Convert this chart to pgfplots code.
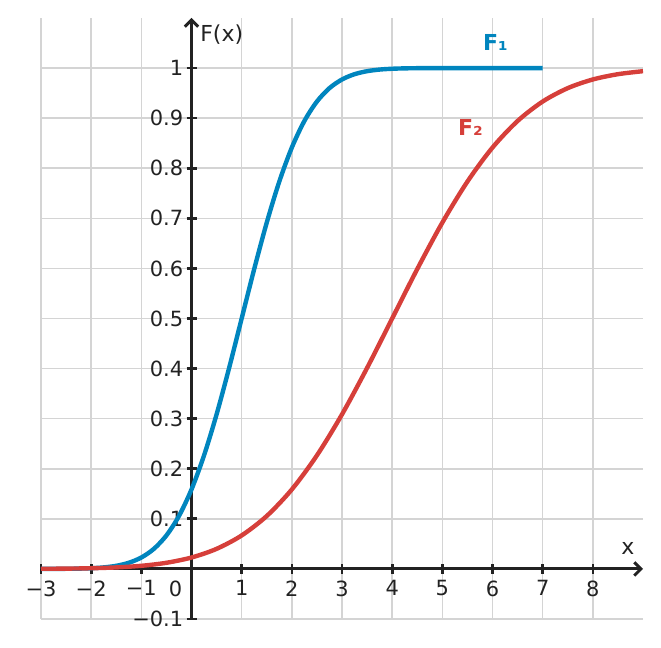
\documentclass[border=0pt]{standalone}
\usepackage{pgfplots}
\pgfplotsset{compat=1.18}
\usepackage{fontspec}
\setmainfont{DejaVu Sans}
\usetikzlibrary{arrows.meta,calc}
\definecolor{fone}{RGB}{0,133,190}
\definecolor{ftwo}{RGB}{214,63,58}
\definecolor{gridc}{RGB}{212,212,212}
\definecolor{axc}{RGB}{34,34,34}
\begin{document}
\begin{tikzpicture}
\begin{axis}[
  scale only axis,
  width=451.5pt, height=450.75pt,
  xmin=-3, xmax=9, ymin=-0.1, ymax=1.1,
  axis lines=middle,
  axis line style={line width=2.3pt, color=axc, -{Straight Barb[length=5pt,width=10pt,line width=2.2pt]}},
  xtick={-3,-2,-1,0,1,2,3,4,5,6,7,8},
  xticklabels={−3,−2,−1,,1,2,3,4,5,6,7,8},
  ytick={-0.1,0,0.1,0.2,0.3,0.4,0.5,0.6,0.7,0.8,0.9,1},
  yticklabels={−0.1,,0.1,0.2,0.3,0.4,0.5,0.6,0.7,0.8,0.9,1},
  tick align=center,
  major tick length=7.5pt,
  tick style={line width=2pt, color=axc},
  grid=major,
  grid style={line width=1.2pt, color=gridc},
  ticklabel style={font=\fontsize{15.7}{18}\selectfont, text=axc},
  xticklabel style={yshift=-1.5pt},
  yticklabel style={xshift=1pt},
  clip=false,
]
\addplot[color=fone, line width=3.3pt, smooth] coordinates {
(-3,0.00003) (-2.75,0.00009) (-2.5,0.00023) (-2.25,0.00058) (-2,0.00135)
(-1.75,0.00298) (-1.5,0.00621) (-1.25,0.01222) (-1,0.02275) (-0.75,0.04006)
(-0.5,0.06681) (-0.25,0.10565) (0,0.15866) (0.25,0.22663) (0.5,0.30854)
(0.75,0.40129) (1,0.5) (1.25,0.59871) (1.5,0.69146) (1.75,0.77337)
(2,0.84134) (2.25,0.89435) (2.5,0.93319) (2.75,0.95994) (3,0.97725)
(3.25,0.98778) (3.5,0.99379) (3.75,0.99702) (4,0.99865) (4.25,0.99942)
(4.5,0.99977) (4.75,0.99991) (5,0.99997) (5.5,1) (6,1) (6.5,1) (7,1)
};
\addplot[color=ftwo, line width=3.3pt, smooth] coordinates {
(-3,0.00023) (-2.5,0.00058) (-2,0.00135) (-1.5,0.00298) (-1,0.00621)
(-0.5,0.01222) (0,0.02275) (0.5,0.04006) (1,0.06681) (1.5,0.10565)
(2,0.15866) (2.5,0.22663) (3,0.30854) (3.5,0.40129) (4,0.5)
(4.5,0.59871) (5,0.69146) (5.5,0.77337) (6,0.84134) (6.5,0.89435)
(7,0.93319) (7.5,0.95994) (8,0.97725) (8.5,0.98778) (9,0.99379)
};
\node[font=\fontsize{15.7}{18}\selectfont, text=axc] at (axis cs:-0.32,-0.04) {0};
\node[font=\fontsize{16.5}{18}\selectfont, text=axc, anchor=west, inner sep=0pt] at (axis cs:0.17,1.066) {F(x)};
\node[font=\fontsize{16.5}{18}\selectfont, text=axc, inner sep=0pt] at (axis cs:8.7,0.04) {x};
\node[font=\bfseries\fontsize{16.5}{18}\selectfont, text=fone, inner sep=0pt] at (axis cs:6.06,1.052) {F₁};
\node[font=\bfseries\fontsize{16.5}{18}\selectfont, text=ftwo, inner sep=0pt] at (axis cs:5.56,0.882) {F₂};
\coordinate (sw) at (axis cs:-3,-0.1);
\coordinate (ne) at (axis cs:9,1.1);
\end{axis}
\pgfresetboundingbox
\path[use as bounding box] ($(sw)+(-30.75pt,-21.75pt)$) rectangle ($(ne)+(13.5pt,13.5pt)$);
\end{tikzpicture}
\end{document}
